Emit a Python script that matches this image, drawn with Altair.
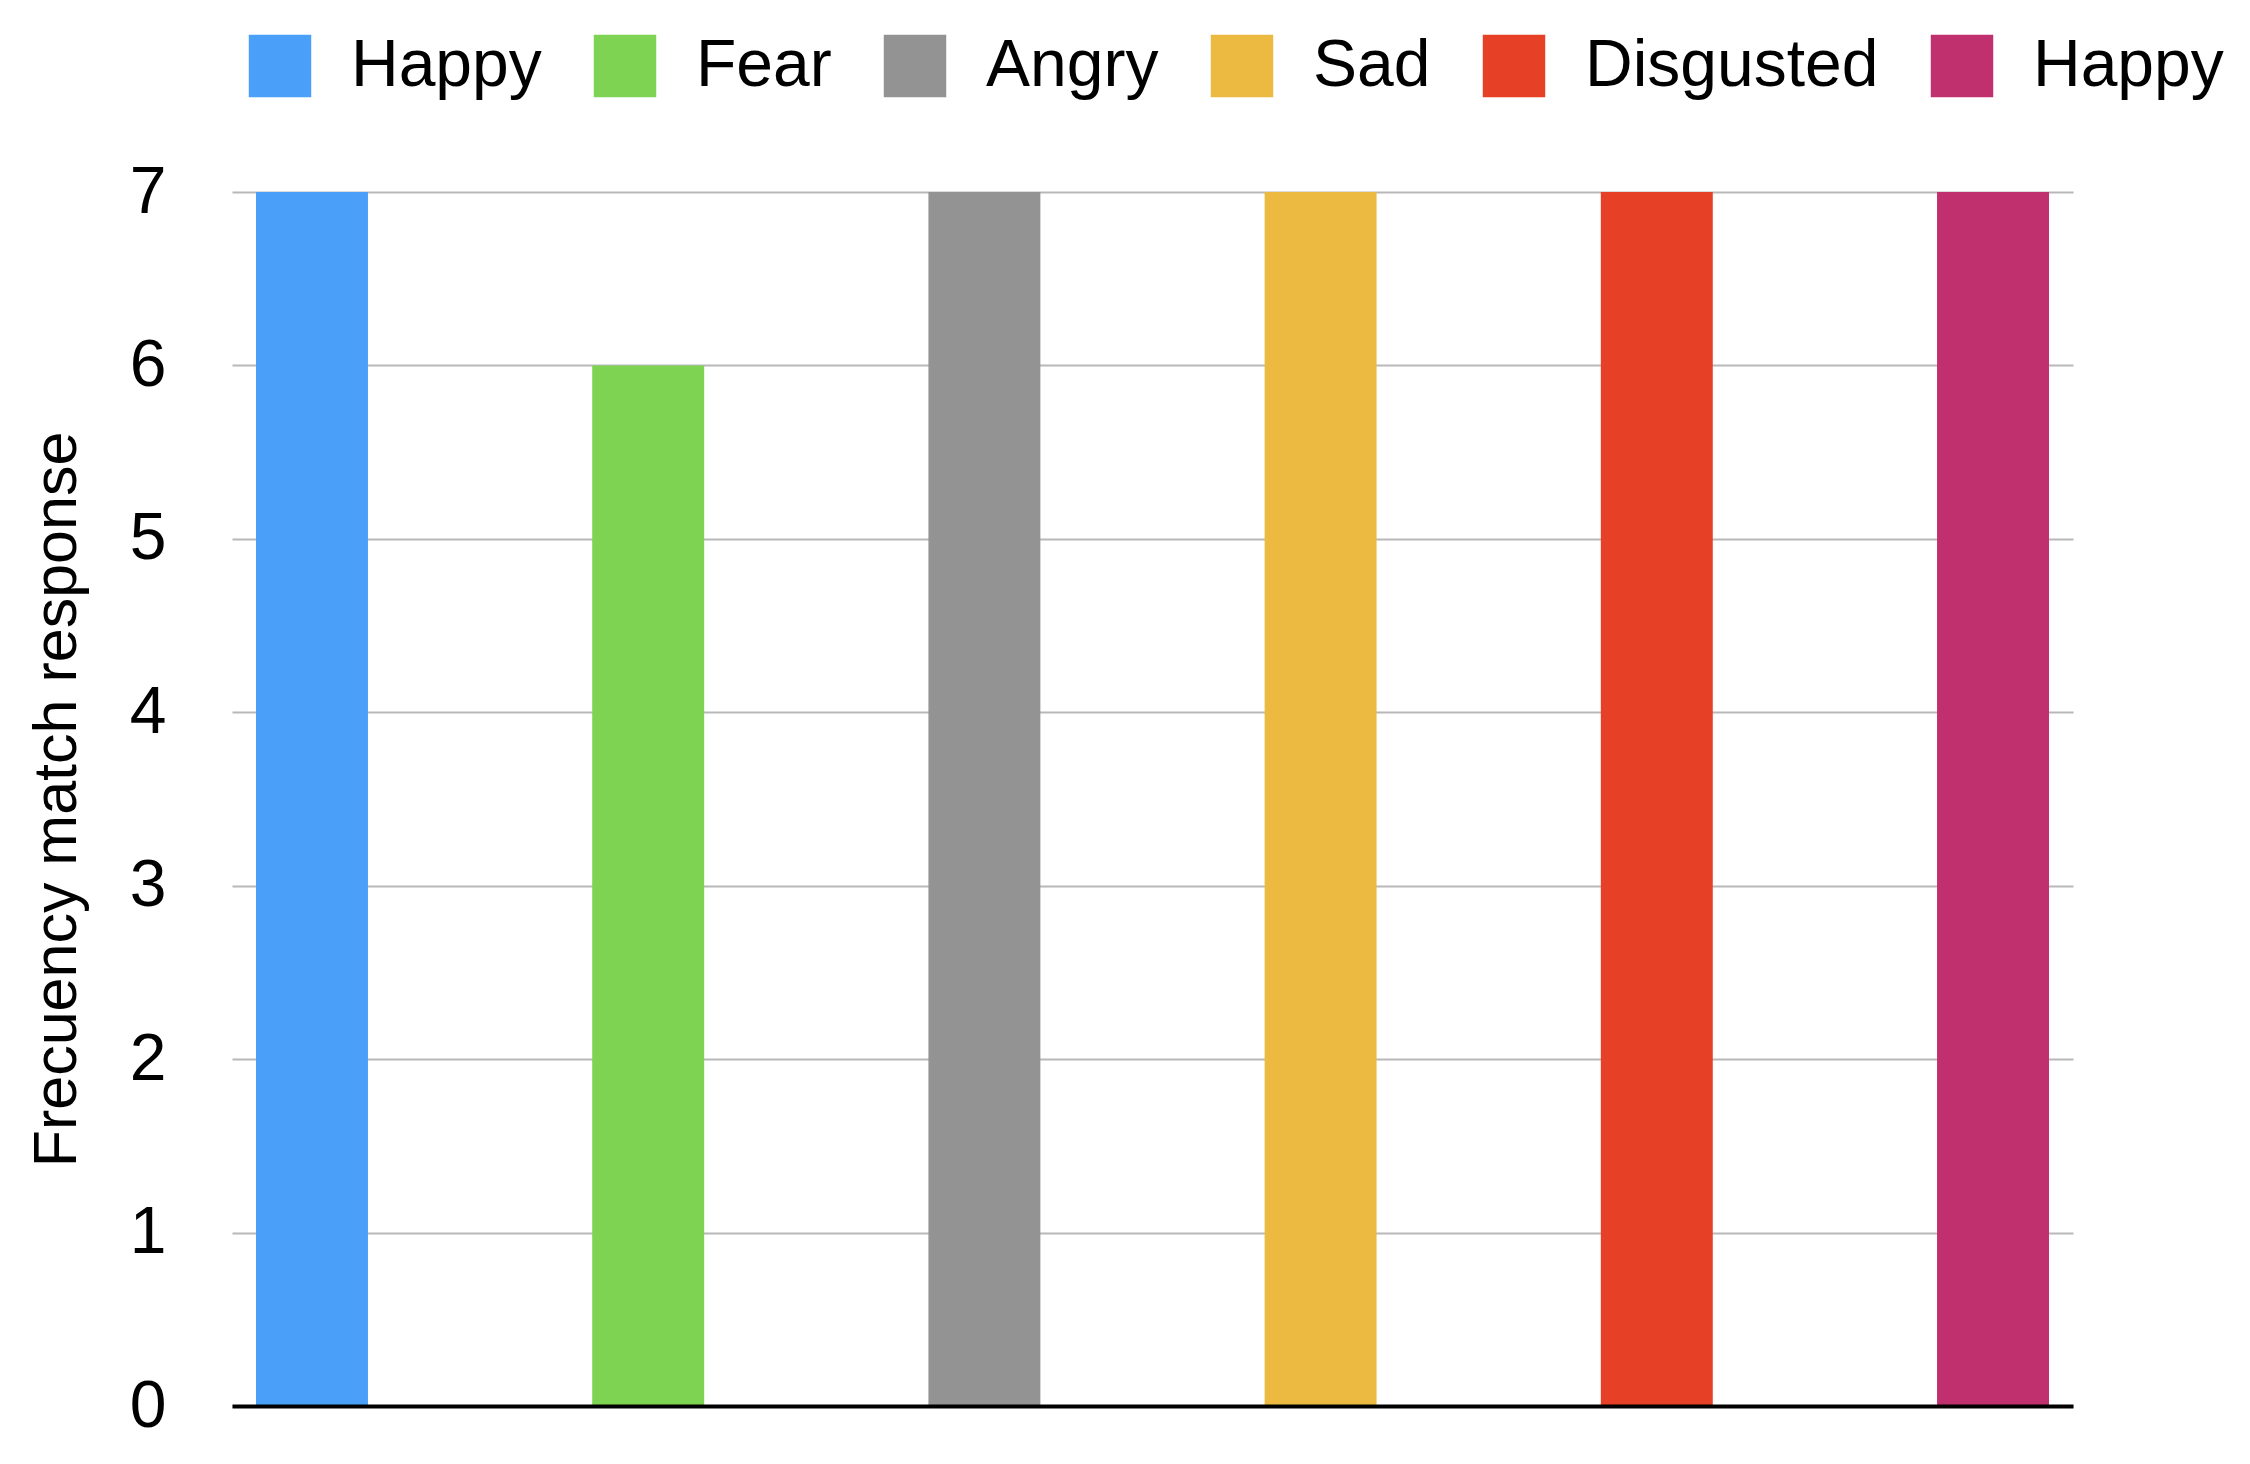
import altair as alt
import pandas as pd

# Data
keys = ["0", "1", "2", "3", "4", "5"]
emotions = ["Happy", "Fear", "Angry", "Sad", "Disgusted", "Happy"]
frequency = [7, 6, 7, 7, 7, 7]
colors = ["#4A9FF8", "#7ED353", "#939393", "#ECBA41", "#E64126", "#C0306F"]

df = pd.DataFrame({"key": keys, "emotion": emotions, "freq": frequency})

label_expr = "[" + ",".join("'" + e + "'" for e in emotions) + "][toNumber(datum.value)]"

FONT = "Liberation Sans"

chart = (
    alt.Chart(df)
    .mark_bar()
    .encode(
        x=alt.X(
            "key:N",
            sort=keys,
            scale=alt.Scale(paddingInner=0.667, paddingOuter=0.0714),
            axis=alt.Axis(
                title=None,
                labels=False,
                ticks=False,
                domain=True,
                domainColor="#000000",
                domainWidth=4,
                grid=False,
                zindex=1,
            ),
        ),
        y=alt.Y(
            "freq:Q",
            scale=alt.Scale(domain=[0, 7], nice=False),
            axis=alt.Axis(
                title="Frecuency match response",
                values=[0, 1, 2, 3, 4, 5, 6, 7],
                grid=True,
                gridColor="#b8b8b8",
                gridWidth=2,
                domain=False,
                ticks=False,
                tickSize=0,
                labelFont=FONT,
                labelFontSize=66,
                labelColor="#000000",
                labelPadding=66,
                titleFont=FONT,
                titleFontSize=61,
                titleFontWeight="normal",
                titleColor="#000000",
                titleAngle=270,
                titleAlign="center",
                titleBaseline="middle",
                titleX=-175,
                titleY=607,
            ),
        ),
        color=alt.Color(
            "key:N",
            sort=keys,
            scale=alt.Scale(domain=keys, range=colors),
            legend=alt.Legend(
                title=None,
                orient="none",
                direction="horizontal",
                legendX=15,
                legendY=-159,
                padding=0,
                symbolType="square",
                symbolSize=3900,
                symbolStrokeWidth=0,
                labelFont=FONT,
                labelFontSize=66,
                labelColor="#000000",
                labelOffset=38,
                columnPadding=50,
                labelExpr=label_expr,
                labelLimit=0,
            ),
        ),
    )
    .properties(
        width=1841,
        height=1214,
        background="#ffffff",
        autosize=alt.AutoSizeParams(type="none"),
        padding={"left": 224, "top": 184, "right": 169, "bottom": 50},
    )
    .configure_view(stroke="transparent", strokeWidth=0)
)

chart.save("out.html", embed_options={"renderer": "svg", "actions": False})
